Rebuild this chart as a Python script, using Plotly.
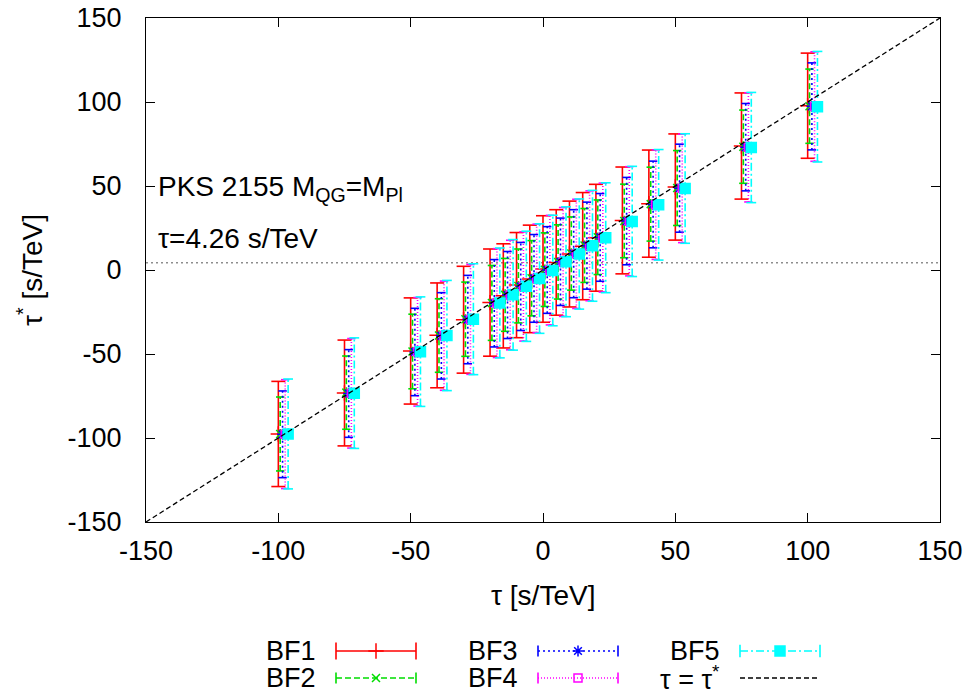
import plotly.graph_objects as go

# ---------------- data ----------------
tau = [-100, -75, -50, -40, -30, -20, -15, -10, -5, 0, 5, 10, 15, 20, 30, 40, 50, 75, 100]

bf1_tau_star = [-97.6, -73.2, -48.2, -38.9, -29.6, -19.4, -15.4, -9.0, -5.3, 0.6, 4.5, 9.5, 14.2, 19.2, 29.5, 39.5, 49.4, 73.8, 97.8]
bf2_tau_star = [-97.6, -73.0, -48.5, -39.0, -29.3, -19.6, -14.8, -9.5, -4.9, 0.2, 4.8, 9.8, 14.6, 19.5, 29.2, 39.2, 48.8, 73.4, 97.5]
bf3_tau_star = [-97.8, -73.5, -48.8, -39.2, -29.5, -19.8, -14.9, -9.8, -5.0, 0.0, 4.9, 9.7, 14.5, 19.4, 29.1, 39.0, 48.7, 73.1, 97.4]
bf4_tau_star = [-97.7, -73.4, -48.7, -39.1, -29.4, -19.7, -14.9, -9.8, -5.0, -0.1, 4.8, 9.6, 14.4, 19.3, 29.0, 38.9, 48.6, 73.0, 97.3]
bf5_tau_star = [-97.6, -73.3, -48.6, -39.0, -29.3, -19.6, -14.8, -9.7, -5.1, -0.3, 4.9, 9.5, 14.4, 19.2, 28.9, 38.8, 48.5, 72.9, 97.2]

bf1_err = [31.3, 31.5, 31.6, 31.2, 31.8, 31.9, 31.0, 31.3, 32.0, 31.7, 31.4, 31.5, 31.9, 31.8, 31.8, 31.9, 31.6, 31.6, 31.3]
bf2_err = [22.0, 21.8, 22.2, 21.9, 22.1, 22.3, 21.7, 22.0, 22.4, 21.9, 22.1, 21.8, 22.0, 22.2, 21.9, 22.0, 22.3, 21.8, 22.1]
bf3_err = [25.8, 26.1, 26.0, 25.7, 26.3, 26.0, 25.9, 26.2, 26.1, 25.8, 26.0, 26.2, 25.9, 26.1, 26.0, 25.8, 26.2, 26.0, 25.9]
bf4_err = [32.4, 32.6, 32.3, 32.5, 32.7, 32.4, 32.6, 32.5, 32.3, 32.6, 32.4, 32.5, 32.7, 32.4, 32.5, 32.6, 32.3, 32.5, 32.6]
bf5_err = [32.7, 32.9, 32.6, 32.8, 33.0, 32.7, 32.9, 32.8, 32.6, 32.9, 32.7, 32.8, 33.0, 32.7, 32.8, 32.9, 32.6, 32.8, 32.9]

series_names = ["BF1", "BF2", "BF3", "BF4", "BF5"]
tau_observed = 4.26
identity_line = [-150, 150]
axis_ticks = [-150, -100, -50, 0, 50, 100, 150]

# ---------------- styles ----------------
W, H = 974, 695          # browser window
PAD = 8                  # default page body margin
FW, FH = W - PAD, H - PAD
PX0, PX1, PY0, PY1 = 146, 940, 18, 522   # plot box in window pixels
FONT = "Liberation Sans, Arial, sans-serif"
FS = 27
FS_TEXT = 28

series = [
    dict(c=bf1_tau_star, e=bf1_err, color="#ff0000", dash="solid", sym="cross-thin", size=11, shift=0.0, cap=10),
    dict(c=bf2_tau_star, e=bf2_err, color="#00dd00", dash="6px,3px", sym="x-thin", size=8, shift=0.7, cap=6),
    dict(c=bf3_tau_star, e=bf3_err, color="#0000ff", dash="2px,3px", sym="asterisk", size=9, shift=1.6, cap=6),
    dict(c=bf4_tau_star, e=bf4_err, color="#ff00ff", dash="1px,2px", sym="square-open", size=8, shift=2.6, cap=6),
    dict(c=bf5_tau_star, e=bf5_err, color="#00ffff", dash="8px,3px,2px,3px", sym="square", size=10, shift=3.7, cap=7),
]

fig = go.Figure()

# horizontal dotted line at observed tau
fig.add_trace(go.Scatter(x=identity_line, y=[tau_observed, tau_observed], mode="lines",
                         line=dict(color="#555555", width=1, dash="2px,3px"),
                         showlegend=False, hoverinfo="skip"))

for name, s in zip(series_names, series):
    xs = [t + s["shift"] for t in tau]
    lo = [c - e for c, e in zip(s["c"], s["e"])]
    hi = [c + e for c, e in zip(s["c"], s["e"])]
    vx, vy = [], []
    for x, a, b in zip(xs, lo, hi):
        vx += [x, x, None]
        vy += [a, b, None]
    fig.add_trace(go.Scatter(x=vx, y=vy, mode="lines",
                             line=dict(color=s["color"], width=1.6, dash=s["dash"]),
                             showlegend=False, hoverinfo="skip"))
    fig.add_trace(go.Scatter(x=xs + xs, y=lo + hi, mode="markers",
                             marker=dict(symbol="line-ew", size=s["cap"],
                                         line=dict(color=s["color"], width=1.6)),
                             showlegend=False, hoverinfo="skip"))
    mk = dict(symbol=s["sym"], size=s["size"], color=s["color"],
              line=dict(color=s["color"], width=1.5))
    fig.add_trace(go.Scatter(x=xs, y=s["c"], mode="markers", marker=mk,
                             name=name, showlegend=False))

# identity line tau = tau*
fig.add_trace(go.Scatter(x=identity_line, y=identity_line, mode="lines",
                         line=dict(color="black", width=1.3, dash="5px,3px"),
                         showlegend=False, hoverinfo="skip"))

# ---------------- custom legend (pixel overlay axes, window pixels) ----------------
rows = [651, 678]
text_right = [318, 520, 722]
SAMPLE_GAP, SAMPLE_LEN = 18, 80
legend_slots = [(0, 0), (1, 0), (0, 1), (1, 1), (0, 2)]
annotations = []


def add_sample(y, col, color, dash, width, cap=None, sym=None, size=None):
    xa = text_right[col] + SAMPLE_GAP
    xb = xa + SAMPLE_LEN
    fig.add_trace(go.Scatter(x=[xa, xb], y=[y, y], mode="lines", xaxis="x2", yaxis="y2",
                             line=dict(color=color, width=width, dash=dash),
                             showlegend=False, hoverinfo="skip"))
    if cap:
        fig.add_trace(go.Scatter(x=[xa, xb], y=[y, y], mode="markers", xaxis="x2", yaxis="y2",
                                 marker=dict(symbol="line-ns", size=cap,
                                             line=dict(color=color, width=width)),
                                 showlegend=False, hoverinfo="skip"))
    if sym:
        fig.add_trace(go.Scatter(x=[(xa + xb) / 2], y=[y], mode="markers", xaxis="x2", yaxis="y2",
                                 marker=dict(symbol=sym, size=size, color=color,
                                             line=dict(color=color, width=1.5)),
                                 showlegend=False, hoverinfo="skip"))


for name, s, (r, c) in zip(series_names, series, legend_slots):
    y = rows[r]
    add_sample(y, c, s["color"], s["dash"], 1.6, cap=s["cap"] + 2, sym=s["sym"], size=s["size"])
    annotations.append(dict(x=text_right[c], y=y, xref="x2", yref="y2", text=name, showarrow=False,
                            xanchor="right", yanchor="middle", font=dict(family=FONT, size=FS, color="black")))

add_sample(rows[1], 2, "black", "5px,3px", 1.3)
annotations.append(dict(x=text_right[2], y=rows[1], xref="x2", yref="y2", text="τ = τ<sup>*</sup>",
                        showarrow=False, xanchor="right", yanchor="middle",
                        font=dict(family=FONT, size=FS, color="black")))

# text labels
annotations += [
    dict(x=543, y=595, xref="x2", yref="y2", text="τ [s/TeV]", showarrow=False,
         xanchor="center", yanchor="middle", font=dict(family=FONT, size=FS_TEXT, color="black")),
    dict(x=30, y=270, xref="x2", yref="y2", text="τ<sup>*</sup> [s/TeV]", showarrow=False,
         textangle=-90, xanchor="center", yanchor="middle", font=dict(family=FONT, size=FS_TEXT, color="black")),
    dict(x=156, y=188, xref="x2", yref="y2", text="PKS 2155 M<sub>QG</sub>=M<sub>Pl</sub>", showarrow=False,
         xanchor="left", yanchor="middle", font=dict(family=FONT, size=FS_TEXT, color="black")),
    dict(x=156, y=238, xref="x2", yref="y2", text="τ=4.26 s/TeV", showarrow=False,
         xanchor="left", yanchor="middle", font=dict(family=FONT, size=FS_TEXT, color="black")),
]

axis_common = dict(range=[-150, 150], tickvals=axis_ticks, ticktext=[str(v) for v in axis_ticks],
                   ticks="inside", ticklen=9, tickwidth=1, tickcolor="black",
                   showline=True, linecolor="black", linewidth=1.2, mirror="allticks",
                   showgrid=False, zeroline=False, automargin=False, ticklabeloverflow="allow",
                   tickfont=dict(family=FONT, size=FS, color="black"))

fig.update_layout(
    width=FW, height=FH,
    margin=dict(l=0, r=0, t=0, b=0, autoexpand=False),
    paper_bgcolor="white", plot_bgcolor="rgba(0,0,0,0)",
    showlegend=False,
    xaxis=dict(domain=[(PX0 - PAD) / FW, (PX1 - PAD) / FW], anchor="y", ticklabelstandoff=4, **axis_common),
    yaxis=dict(domain=[1 - (PY1 - PAD) / FH, 1 - (PY0 - PAD) / FH], anchor="x", ticklabelstandoff=18, **axis_common),
    xaxis2=dict(domain=[0, 1], range=[PAD, W], visible=False, anchor="y2", fixedrange=True, automargin=False),
    yaxis2=dict(domain=[0, 1], range=[H, PAD], visible=False, anchor="x2", fixedrange=True, automargin=False),
    annotations=annotations,
)

fig.write_html("out.html")
